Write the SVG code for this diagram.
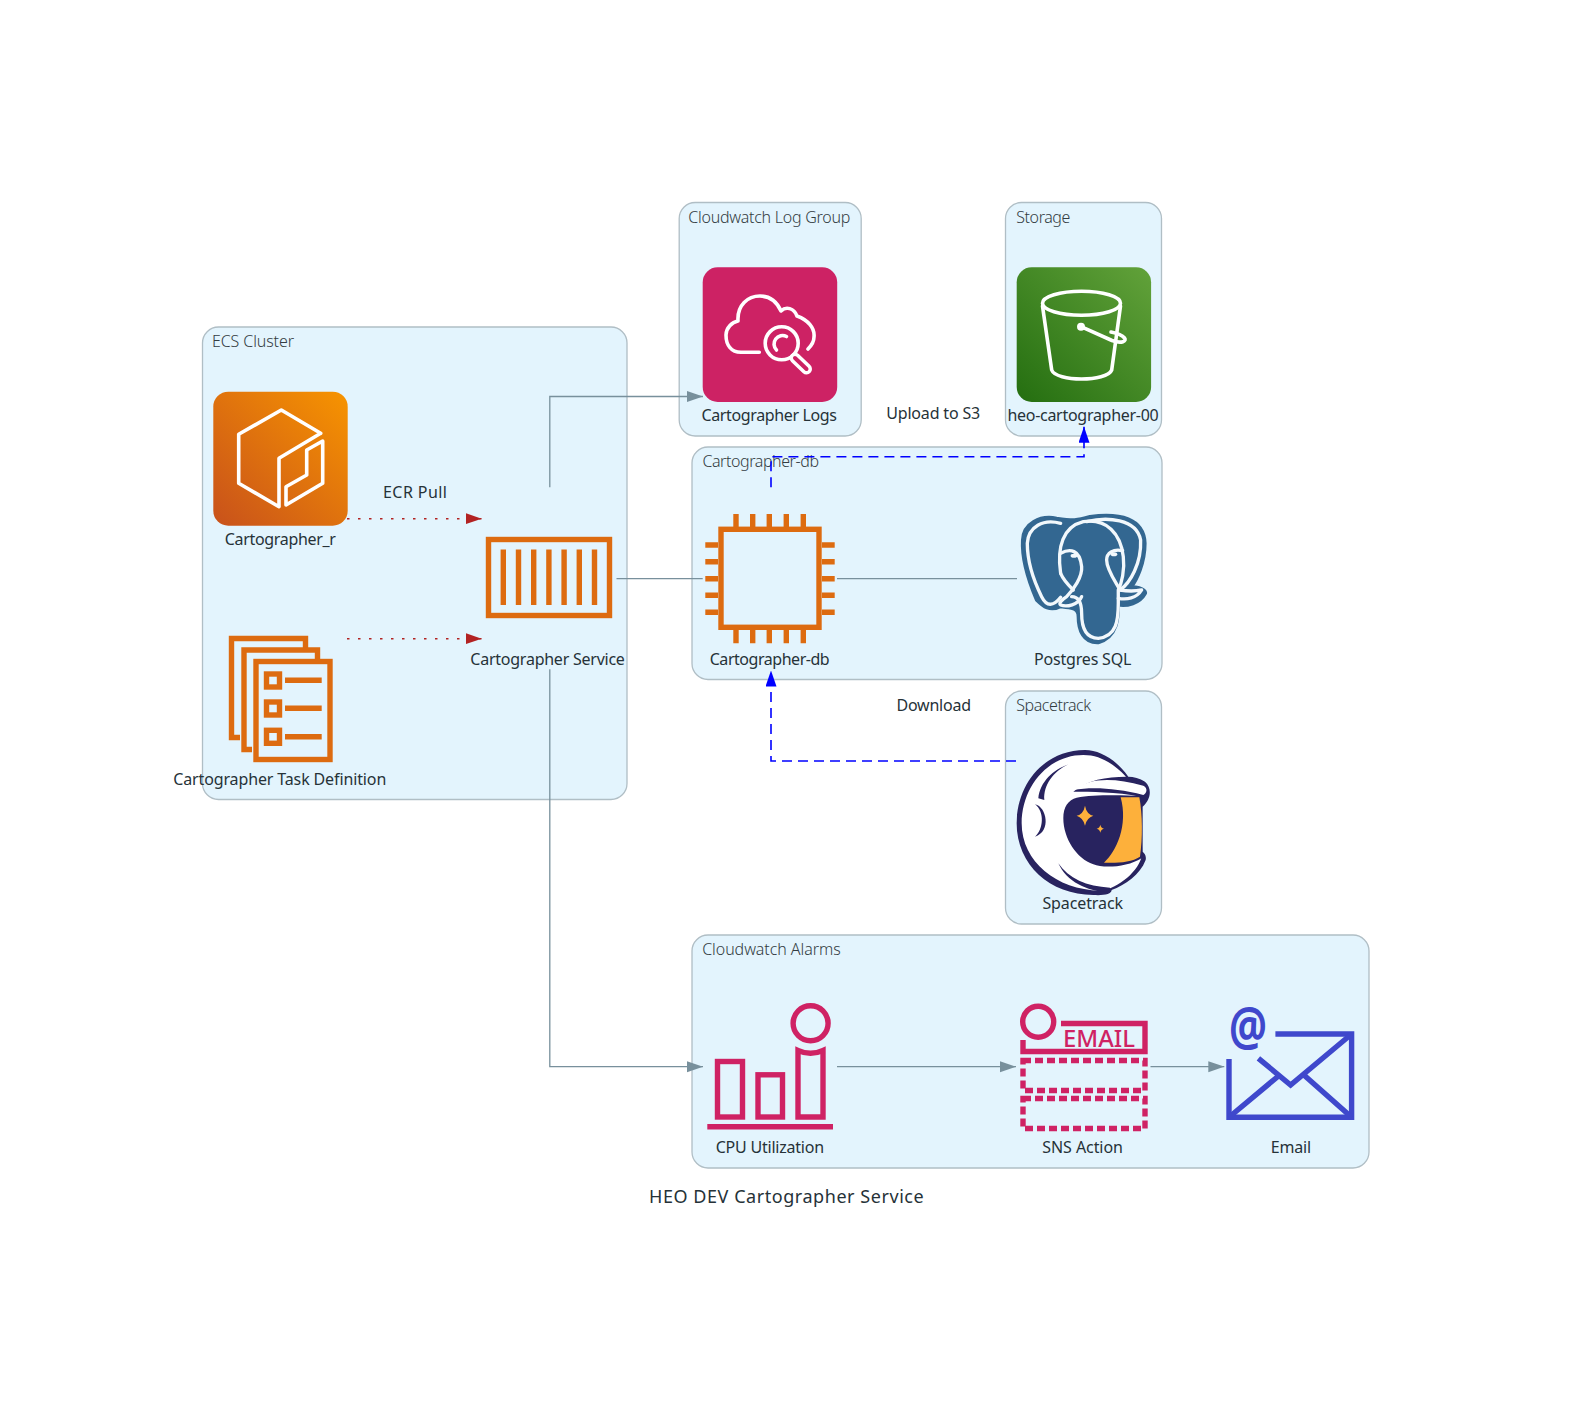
<svg xmlns="http://www.w3.org/2000/svg" width="1572" height="1405" viewBox="0 0 1572 1405">
<style>
text{font-family:"Noto Sans","DejaVu Sans",sans-serif;font-size:16px;fill:#263238}
.gl{fill:#333c42;font-weight:300}
.grp{fill:#e3f4fd;stroke:#b0bec5;stroke-width:1.3}
.o{fill:none;stroke:#dd6b10;stroke-width:5.4}
.w{fill:none;stroke:#fff;stroke-width:3.6;stroke-linejoin:round;stroke-linecap:round}
.p{fill:none;stroke:#cf2264;stroke-width:5.4}
.b{fill:none;stroke:#3f48cc;stroke-width:5.4}
.c{fill:none;stroke:#78909c;stroke-width:1.3}
.r{fill:none;stroke:#b22222;stroke-width:1.6;stroke-dasharray:2.5 8.5}
.bl{fill:none;stroke:#0000ff;stroke-width:1.6;stroke-dasharray:10 6}
</style>
<defs>
<linearGradient id="gO" x1="0" y1="1" x2="1" y2="0"><stop offset="0" stop-color="#c8511b"/><stop offset="1" stop-color="#f79400"/></linearGradient>
<linearGradient id="gG" x1="0" y1="1" x2="1" y2="0"><stop offset="0" stop-color="#246e10"/><stop offset="1" stop-color="#62a23a"/></linearGradient>
<marker id="ag" markerUnits="userSpaceOnUse" markerWidth="16" markerHeight="12" refX="16" refY="5.5" orient="auto"><path d="M0 0L16 5.500L0 11Z" fill="#78909c"/></marker>
<marker id="ar" markerUnits="userSpaceOnUse" markerWidth="16" markerHeight="12" refX="16" refY="5.5" orient="auto"><path d="M0 0L16 5.500L0 11Z" fill="#b22222"/></marker>
<marker id="ab" markerUnits="userSpaceOnUse" markerWidth="16" markerHeight="12" refX="16" refY="5.5" orient="auto"><path d="M0 0L16 5.500L0 11Z" fill="#0000ff"/></marker>
</defs>
<rect width="1572" height="1405" fill="#fff"/>
<g id="groups">
<g id="ecs-cluster"><rect class="grp" x="202.500" y="327" width="424.500" height="472.500" rx="16"/><text class="gl" x="212" y="347" textLength="82">ECS Cluster</text></g>
<g id="log-group"><rect class="grp" x="679.200" y="202.500" width="182" height="233.500" rx="16"/><text class="gl" x="688.300" y="223.300" textLength="162">Cloudwatch Log Group</text></g>
<g id="storage"><rect class="grp" x="1005.500" y="202.500" width="156" height="233.500" rx="16"/><text class="gl" x="1016.300" y="223.300" textLength="54">Storage</text></g>
<g id="db-group"><rect class="grp" x="692" y="447" width="470" height="232.500" rx="16"/><text class="gl" x="702.400" y="466.700" textLength="116.600">Cartographer-db</text></g>
<g id="spacetrack-group"><rect class="grp" x="1005.500" y="691" width="156" height="233" rx="16"/><text class="gl" x="1016.200" y="710.700" textLength="75">Spacetrack</text></g>
<g id="alarms-group"><rect class="grp" x="692" y="935" width="677" height="233" rx="16"/><text class="gl" x="702.200" y="955" textLength="138.500">Cloudwatch Alarms</text></g>
</g>
<g id="connectors">
<path class="c" marker-end="url(#ag)" d="M549.800 487.300V396.500H703"/>
<path class="c" marker-end="url(#ag)" d="M549.800 669.300V1066.700H703"/>
<path class="c" d="M616.500 578.700H702.700"/>
<path class="c" d="M837 578.700H1017"/>
<path class="c" marker-end="url(#ag)" d="M837 1066.700H1016"/>
<path class="c" marker-end="url(#ag)" d="M1150.500 1066.700H1224.300"/>
<path class="r" marker-end="url(#ar)" d="M347 518.700H481.700"/>
<path class="r" marker-end="url(#ar)" d="M347 638.700H481.700"/>
<path class="bl" marker-end="url(#ab)" d="M771 487.300V456.700H1084V426.700"/>
<path class="bl" marker-end="url(#ab)" d="M1016 761H771V670.500"/>
<text x="383" y="497.700" textLength="64">ECR Pull</text>
<text x="886.200" y="419" textLength="94">Upload to S3</text>
<text x="896.500" y="711" textLength="74.500">Download</text>
</g>
<g id="cartographer-r">
<rect x="213.300" y="391.700" width="134.400" height="134" rx="15" fill="url(#gO)"/>
<path class="w" d="M320.700 433.300L281.300 410L238.700 434.300V483.300L279 506.700V458.300L320.700 433.300"/>
<path class="w" d="M286 486.700V505L322.700 483.300V441L306.700 450V475Z"/>
<text x="224.800" y="545" textLength="111">Cartographer_r</text>
</g>
<g id="task-definition">
<path class="o" d="M240 737.500H231.500V638.500H305.500V648"/>
<path class="o" d="M252 749.500H244V650H317.500V660"/>
<rect class="o" x="256" y="661.500" width="74" height="98"/>
<rect class="o" x="266.500" y="674" width="13" height="13"/><rect class="o" x="266.500" y="702" width="13" height="13"/><rect class="o" x="266.500" y="730.300" width="13" height="13"/>
<path class="o" d="M285 680.300H321.700M285 708.300H321.700M285 736.700H321.700"/>
<text x="173.300" y="785" textLength="213">Cartographer Task Definition</text>
</g>
<g id="cartographer-service">
<rect class="o" x="488.500" y="539.500" width="121" height="76"/>
<path class="o" d="M503.300 549.500V605M518.500 549.500V605M533.700 549.500V605M548.900 549.500V605M564.100 549.500V605M579.300 549.500V605M594.500 549.500V605"/>
<text x="470.300" y="665" textLength="154.600">Cartographer Service</text>
</g>
<g id="cartographer-logs">
<rect x="702.700" y="267.300" width="134.500" height="134.700" rx="15" fill="#cd2264"/>
<path class="w" d="M759.300 352.300H741C731 352 726 345 726 335C726 328 732 322 738 321C737 305 748 296 760 296C771 296 777 302 781 311C786 306 794 308 797 316C808 320 815 328 814 337C814 341 812 345 808 349"/>
<circle class="w" cx="781.700" cy="343.300" r="16.500"/>
<path class="w" d="M786.500 336.500A8.500 8.500 0 0 0 776.500 350"/>
<path d="M795 358L806.500 369" stroke="#fff" stroke-width="11" stroke-linecap="round"/>
<path d="M795 358L806.500 369" stroke="#cd2264" stroke-width="4" stroke-linecap="round"/>
<text x="701.400" y="420.700" textLength="135.600">Cartographer Logs</text>
</g>
<g id="s3-bucket">
<rect x="1016.700" y="267.300" width="134.400" height="134.700" rx="15" fill="url(#gG)"/>
<ellipse class="w" cx="1081.500" cy="303.300" rx="39" ry="12"/>
<path class="w" d="M1042.500 306L1051.700 370C1056 382 1107 382 1111.700 370L1120.500 306"/>
<circle cx="1081" cy="326.700" r="4" fill="#fff"/>
<path class="w" d="M1081 326.700L1112 340.500C1122 344 1127 341 1124.500 338C1122 335 1116 333 1111 332"/>
<text x="1007.400" y="420.700" textLength="151.300">heo-cartographer-00</text>
</g>
<g id="cartographer-db">
<rect x="721" y="529.300" width="98" height="98" fill="none" stroke="#dd6b10" stroke-width="5.400"/>
<path class="o" d="M736 514V527M752.700 514V527M769.300 514V527M786.300 514V527M803.300 514V527M736 630V643.300M752.700 630V643.300M769.300 630V643.300M786.300 630V643.300M803.300 630V643.300M705.300 545H718M705.300 561.700H718M705.300 578.700H718M705.300 595.300H718M705.300 612.300H718M822 545H834.700M822 561.700H834.700M822 578.700H834.700M822 595.300H834.700M822 612.300H834.700"/>
<text x="709.700" y="665" textLength="120">Cartographer-db</text>
</g>
<g id="postgres">
<g transform="translate(690 490) scale(.3333)">
<path fill="#336791" stroke="#336791" stroke-width="10" d="M998 150C1000 100 1050 75 1100 85C1150 92 1160 92 1200 80C1290 68 1362 85 1365 160C1365 220 1340 270 1325 290C1365 292 1370 310 1365 312C1350 340 1310 350 1285 345C1285 380 1285 440 1225 458C1180 460 1165 420 1165 380C1165 350 1140 355 1110 350C1080 365 1060 350 1040 330C1010 260 995 200 998 150Z"/>
<g fill="none" stroke="#f2f8fc" stroke-width="10" stroke-linecap="round" stroke-linejoin="round">
<path d="M1112 100C1060 85 1015 110 1012 160C1012 210 1030 270 1055 320C1070 350 1090 350 1112 322"/>
<path d="M1112 250C1100 170 1120 110 1180 95C1250 85 1292 130 1300 200C1305 240 1295 280 1285 300V340C1285 390 1280 440 1225 445C1185 445 1175 410 1175 370C1175 335 1165 320 1145 320"/>
<path d="M1190 95C1250 80 1340 85 1352 150C1355 220 1320 280 1290 300C1320 305 1345 302 1355 300C1340 325 1310 330 1285 325"/>
<path d="M1112 190C1140 175 1170 178 1175 230C1178 260 1150 300 1130 320C1115 330 1105 340 1112 345C1130 352 1165 345 1175 320"/>
<path d="M1112 250C1120 270 1140 290 1150 300"/>
<path d="M1298 182C1270 175 1250 190 1250 210C1250 240 1280 280 1290 300"/>
</g>
<ellipse cx="1152" cy="197" rx="10" ry="6" fill="#f2f8fc"/><ellipse cx="1272" cy="193" rx="10" ry="6" fill="#f2f8fc"/>
</g>
<text x="1034" y="665" textLength="97.400">Postgres SQL</text>
</g>
<g id="spacetrack">
<g transform="translate(1000 735) scale(.3333)">
<path fill="#28235f" d="M255 45C130 45 50 150 50 265C50 390 150 480 280 480C310 482 335 478 335 465C375 450 420 420 437 375C440 360 432 355 428 350V215C452 195 458 160 435 140C420 130 400 125 385 125C350 75 300 45 255 45Z"/>
<path fill="#fff" d="M250 60C140 60 65 160 65 265C65 380 170 465 300 467C340 465 410 420 425 365L420 185C350 170 270 170 220 170C260 135 320 125 378 125C340 85 300 60 250 60Z"/>
<path fill="#fff" d="M220 165C270 128 340 128 430 152C445 160 440 175 430 180C350 160 280 155 220 165Z"/>
<path fill="#28235f" d="M230 188C280 178 370 180 422 183L427 368C380 398 310 400 280 388C230 372 190 310 190 250C190 215 205 195 230 188Z"/>
<path fill="#fdb03b" d="M362 187H418C428 240 428 310 420 365C395 382 350 385 312 383C350 350 385 270 362 187Z"/>
<path fill="#fdb03b" d="M255 212Q260 238 280 242Q260 248 255 272Q250 248 230 242Q250 238 255 212ZM301 269Q303 279 312 281Q303 283 301 293Q299 283 290 281Q299 279 301 269Z"/>
<path fill="#28235f" d="M105 208C140 215 155 290 105 305C130 285 135 230 105 208ZM205 88C160 105 120 140 115 190L133 195C130 150 160 110 205 88ZM175 385C205 430 260 455 330 458V472C260 470 200 440 175 385Z"/>
</g>
<text x="1042.400" y="908.800" textLength="80.600">Spacetrack</text>
</g>
<g id="cpu-utilization">
<circle class="p" cx="810.600" cy="1023.300" r="17.500"/>
<rect class="p" x="717.500" y="1061.500" width="25" height="55.500"/>
<rect class="p" x="758" y="1074.800" width="24.500" height="42.200"/>
<path class="p" d="M798 1117V1050.500Q810.500 1056 823 1050.500V1117Z"/>
<path class="p" d="M707.300 1126.700H833"/>
<text x="715.700" y="1152.700" textLength="108.400">CPU Utilization</text>
</g>
<g id="sns-action">
<circle class="p" cx="1038.200" cy="1021.700" r="15.500"/>
<path class="p" d="M1061 1023.500H1145V1051.500H1023V1040"/>
<text x="1063" y="1046.700" textLength="72" style="fill:#cf2264;font-size:23px;font-weight:500" lengthAdjust="spacingAndGlyphs">EMAIL</text>
<rect class="p" x="1023" y="1060.500" width="122" height="30" stroke-dasharray="8 4"/>
<rect class="p" x="1023" y="1098.500" width="122" height="30" stroke-dasharray="8 4"/>
<text x="1042.300" y="1152.700" textLength="80.600">SNS Action</text>
</g>
<g id="email">
<path class="b" d="M1275.400 1034H1351.600V1117.300H1229V1059"/>
<path class="b" d="M1351.600 1034L1290.600 1085L1258.400 1058.300M1277.600 1076.700L1229 1117.300M1305 1076L1351.600 1117.300"/>
<text x="1229" y="1046" style="fill:#3f48cc;font-size:54px;font-weight:700" textLength="38" lengthAdjust="spacingAndGlyphs">@</text>
<text x="1270.700" y="1152.700" textLength="40.400">Email</text>
</g>
<text id="title" x="649" y="1202.500" textLength="274.700" style="font-size:18px">HEO DEV Cartographer Service</text>
</svg>
